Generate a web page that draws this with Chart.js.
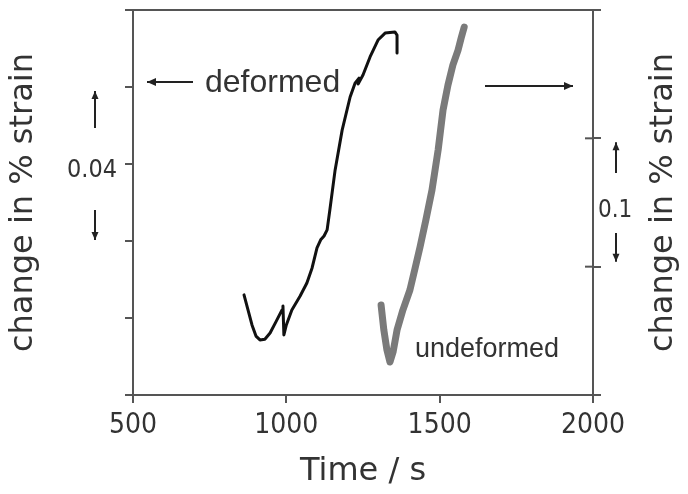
<!DOCTYPE html>
<html><head><meta charset="utf-8">
<script src="https://cdn.jsdelivr.net/npm/chart.js@4/dist/chart.umd.min.js"></script>
<style>html,body{margin:0;padding:0;background:#fff;}#wrap{width:688px;height:494px;}</style>
</head><body><div id="wrap"><canvas id="c" width="688" height="494"></canvas></div>
<script>
// ---- data ----
const deformedTime   = [862, 875, 888, 901, 914, 930, 947, 966, 986, 989, 992, 1000, 1018, 1045, 1067, 1084, 1100, 1112, 1123, 1133, 1142, 1159, 1182, 1208, 1224, 1237, 1234, 1250, 1273, 1299, 1322, 1354, 1361, 1361];
const deformedStrain = [0.0060, 0.0021, -0.0018, -0.0047, -0.0057, -0.0055, -0.0039, -0.0010, 0.0021, 0.0031, -0.0044, -0.0018, 0.0021, 0.0057, 0.0091, 0.0130, 0.0182, 0.0203, 0.0213, 0.0229, 0.0281, 0.0384, 0.0488, 0.0574, 0.0610, 0.0623, 0.0608, 0.0631, 0.0678, 0.0722, 0.0740, 0.0743, 0.0735, 0.0688];
const undeformedTime   = [1309, 1318, 1328, 1338, 1348, 1361, 1380, 1403, 1420, 1436, 1455, 1475, 1495, 1511, 1527, 1543, 1560, 1570, 1580];
const undeformedStrain = [0.0701, 0.0506, 0.0351, 0.0257, 0.0335, 0.0506, 0.0662, 0.0818, 0.0990, 0.1153, 0.1364, 0.1597, 0.1909, 0.2221, 0.2415, 0.2571, 0.2688, 0.2781, 0.2867];
const xTickValues = [500, 1000, 1500, 2000];
const leftLabelValue = 0.04;
const leftLabelText = '0.04';
const rightSpanText = '0.1';
const xTitle = 'Time / s';
const yTitle = 'change in % strain';
const seriesNames = ['deformed', 'undeformed'];

const AXIS = '#555';
const TXT = '#333';

function arrow(ctx, x1, y1, x2, y2, head, half) {
  ctx.beginPath(); ctx.moveTo(x1, y1); ctx.lineTo(x2, y2); ctx.stroke();
  const a = Math.atan2(y2 - y1, x2 - x1);
  ctx.beginPath();
  ctx.moveTo(x2, y2);
  ctx.lineTo(x2 - head * Math.cos(a) + half * Math.sin(a), y2 - head * Math.sin(a) - half * Math.cos(a));
  ctx.lineTo(x2 - head * Math.cos(a) - half * Math.sin(a), y2 - head * Math.sin(a) + half * Math.cos(a));
  ctx.closePath(); ctx.fill();
}

const deco = {
  id: 'deco',
  afterDraw(chart) {
    const ctx = chart.ctx, ca = chart.chartArea;
    const y = chart.scales.y, y2 = chart.scales.y2;
    ctx.save();
    // top frame line
    ctx.strokeStyle = AXIS; ctx.lineWidth = 2;
    ctx.beginPath(); ctx.moveTo(ca.left, ca.top); ctx.lineTo(ca.right, ca.top); ctx.stroke();
    // inner half of right-axis ticks
    y2.ticks.forEach(t => {
      const p = y2.getPixelForValue(t.value);
      ctx.beginPath(); ctx.moveTo(ca.right - 8, p); ctx.lineTo(ca.right, p); ctx.stroke();
    });
    // arrows
    ctx.strokeStyle = '#222'; ctx.fillStyle = '#222'; ctx.lineWidth = 2;
    arrow(ctx, 193, 82, 147, 82, 9, 4);
    arrow(ctx, 485, 86, 573, 86, 9, 4);
    const lx = 95;
    arrow(ctx, lx, 128, lx, y.getPixelForValue(0.06) + 4, 8, 3.5);
    arrow(ctx, lx, 210, lx, y.getPixelForValue(0.02) - 1, 8, 3.5);
    const rx = 616;
    arrow(ctx, rx, 173, rx, y2.getPixelForValue(0.2) + 4, 8, 3.5);
    arrow(ctx, rx, 233, rx, y2.getPixelForValue(0.1) - 5, 8, 3.5);
    // annotation texts
    ctx.fillStyle = TXT; ctx.textBaseline = 'alphabetic'; ctx.textAlign = 'left';
    ctx.font = '32px "Liberation Sans", Arial, sans-serif';
    ctx.fillText(seriesNames[0], 205, 92);
    ctx.font = '27px "Liberation Sans", Arial, sans-serif';
    ctx.fillText(seriesNames[1], 415, 357);
    ctx.font = '24px "DejaVu Sans Condensed", "DejaVu Sans", sans-serif';
    ctx.fillText(rightSpanText, 598, 217);
    // right axis title (reads bottom-to-top)
    ctx.translate(672, (ca.top + ca.bottom) / 2);
    ctx.rotate(-Math.PI / 2);
    ctx.textAlign = 'center';
    ctx.font = '32px "DejaVu Sans", sans-serif';
    ctx.fillText(yTitle, 0, 0);
    ctx.restore();
  }
};

const commonGrid = { drawOnChartArea: false, tickLength: 8, color: AXIS, lineWidth: 2 };
const noPadV = s => { s.paddingTop = 0; s.paddingBottom = 0; };

new Chart(document.getElementById('c'), {
  type: 'line',
  data: {
    datasets: [
      { label: seriesNames[0], yAxisID: 'y',
        data: deformedTime.map((t, i) => ({ x: t, y: deformedStrain[i] })),
        borderColor: '#111', borderWidth: 3, pointRadius: 0, tension: 0,
        borderJoinStyle: 'round', borderCapStyle: 'round' },
      { label: seriesNames[1], yAxisID: 'y2',
        data: undeformedTime.map((t, i) => ({ x: t, y: undeformedStrain[i] })),
        borderColor: '#7a7a7a', borderWidth: 7, pointRadius: 0, tension: 0,
        borderJoinStyle: 'round', borderCapStyle: 'round' }
    ]
  },
  options: {
    responsive: false, animation: false, devicePixelRatio: 1,
    layout: { padding: { top: 10, left: 0, right: 0, bottom: 0 } },
    plugins: { legend: { display: false }, tooltip: { enabled: false } },
    scales: {
      x: {
        type: 'linear', position: 'bottom', min: 500, max: 2000,
        afterBuildTicks: s => { s.ticks = xTickValues.map(v => ({ value: v })); },
        afterFit: s => { s.height = 99; s.paddingLeft = 0; s.paddingRight = 0; },
        grid: commonGrid,
        border: { display: true, color: AXIS, width: 2 },
        ticks: { color: TXT, padding: 6, callback: v => String(v),
                 font: { family: '"DejaVu Sans Condensed", "DejaVu Sans"', size: 28 } },
        title: { display: true, text: xTitle, color: TXT, padding: { top: 0, bottom: 3 },
                 font: { family: '"DejaVu Sans"', size: 32 } }
      },
      y: {
        type: 'linear', position: 'left', min: -0.02, max: 0.08,
        ticks: { stepSize: 0.02, color: TXT, padding: 8, labelOffset: 6,
                 font: { family: '"DejaVu Sans Condensed", "DejaVu Sans"', size: 25 },
                 callback: v => Math.abs(v - leftLabelValue) < 1e-9 ? leftLabelText : '' },
        afterFit: s => { s.width = 133; noPadV(s); },
        grid: commonGrid,
        border: { display: true, color: AXIS, width: 2 },
        title: { display: true, text: yTitle, color: TXT, padding: { top: 4, bottom: 0 },
                 font: { family: '"DejaVu Sans"', size: 32 } }
      },
      y2: {
        type: 'linear', position: 'right', min: 0, max: 0.3,
        ticks: { stepSize: 0.1, callback: () => '' },
        afterFit: s => { s.width = 95; noPadV(s); },
        grid: commonGrid,
        border: { display: true, color: AXIS, width: 2 }
      }
    }
  },
  plugins: [deco]
});
</script>
</body></html>
